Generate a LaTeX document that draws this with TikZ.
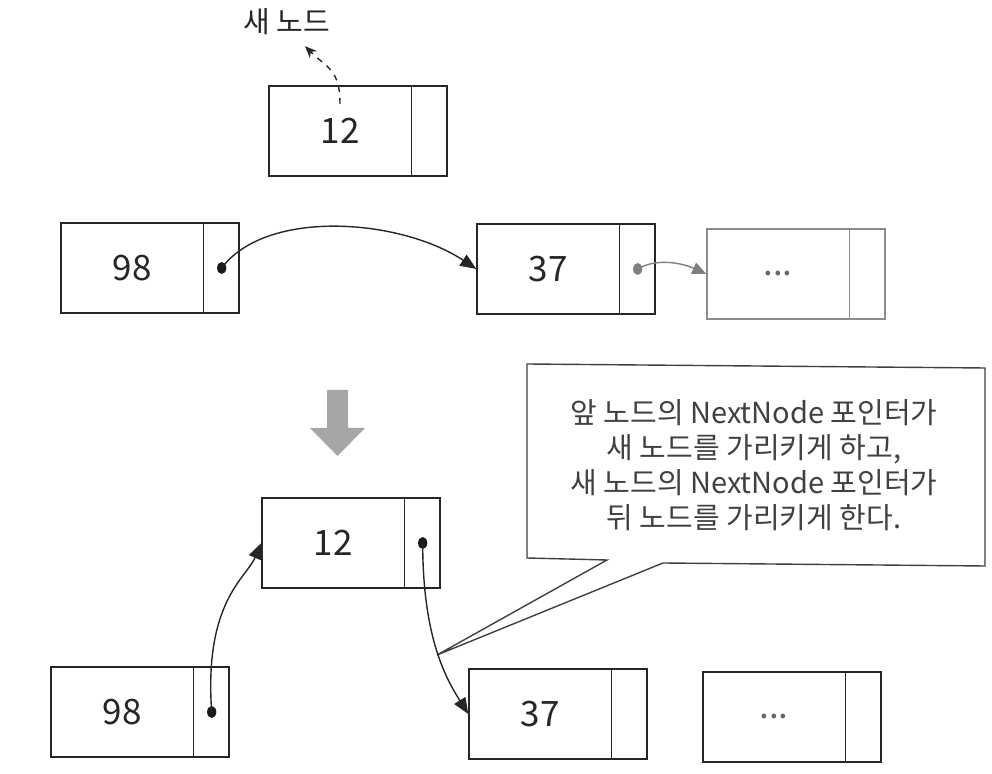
\documentclass[tikz,border=0pt]{standalone}
\usepackage{fontspec}
\newfontfamily\kr{Noto Sans CJK KR}
\usetikzlibrary{arrows.meta}
\tikzset{
  llcell/.style={draw=black!85, line width=0.7pt, minimum width=89pt, minimum height=45pt, inner sep=0pt, fill=white},
  val/.style={font=\kr\fontsize{17.5}{20}\selectfont, text=black!85},
  ptr/.style={-{Triangle[length=8pt,width=6.5pt]}, line width=0.7pt, draw=black!85},
  dot/.style={fill=black!90},
  faded/.style={draw=black!45},
  calloutbox/.style={draw=black!75, line width=0.7pt, fill=white},
  note/.style={font=\kr\fontsize{14.5}{17.5}\selectfont, text=black!75, align=center},
}
\newcommand\llbox[5]{%
  \node[llcell,#5] (#1) at (#2,#3) {};
  \draw[line width=0.7pt,draw=black!85,#5] ([xshift=-18pt]#1.north east) -- ([xshift=-18pt]#1.south east);
  \node[val] (#1t) at ([xshift=-9pt]#1.center) {#4};
  \coordinate (#1p) at ([xshift=-9pt]#1.east);
}
\begin{document}
\begin{tikzpicture}[x=0.5pt,y=-0.5pt]
\useasboundingbox (0,0) rectangle (992,774);
% top: new node
\node[font=\kr\fontsize{14.5}{17}\selectfont, text=black!85] (newlbl) at (287,22) {새 노드};
\llbox{n12}{358}{131}{12}{}
\draw[dashed, line width=0.7pt, -{Stealth[length=6pt,width=5pt]}, draw=black!85]
  ([xshift=-9pt,yshift=13.5pt]n12.center) .. controls +(0,-35) and +(22,22) .. ([xshift=9pt,yshift=-2pt]newlbl.south);
% row 2
\llbox{a98}{150}{268}{98}{}
\llbox{a37}{566}{269}{37}{}
\llbox{aetc}{796}{274}{\textcolor{black!60}{...}}{faded}
\fill[dot] (a98p) ellipse (2.3pt and 3pt);
\fill[black!50] (a37p) ellipse (2.3pt and 3pt);
\draw[ptr] (a98p) .. controls +(45,-60) and +(-75,-50) .. (a37.west);
\draw[ptr, draw=black!50, -{Triangle[length=7pt,width=6pt]}] (a37p) .. controls +(20,-12) and +(-22,-10) .. (aetc.west);
% transition arrow
\fill[black!35] (327,390) -- (348,390) -- (348,428) -- (365,428) -- (337.5,456) -- (310,428) -- (327,428) -- cycle;
% callout
\coordinate (tip) at (437,655);
\draw[calloutbox] (527,364) -- (985,368) -- (985,566) -- (663,563) -- (tip) -- (607,560) -- (527,558) -- cycle;
\node[note] (msg) at (754,465) {앞 노드의 NextNode 포인터가\\새 노드를 가리키게 하고,\\새 노드의 NextNode 포인터가\\뒤 노드를 가리키게 한다.};
% bottom row
\llbox{b12}{351}{543}{12}{}
\llbox{b98}{140}{712}{98}{}
\llbox{b37}{558}{714}{37}{}
\llbox{betc}{792}{717}{\textcolor{black!60}{...}}{}
\fill[dot] (b12p) ellipse (2.3pt and 3pt);
\fill[dot] (b98p) ellipse (2.3pt and 3pt);
\draw[ptr] (b98p) .. controls +(-8,-110) and +(-15,35) .. (b12.west);
\draw[ptr] (b12p) .. controls +(0,95) and +(-22,-35) .. (b37.west);
\end{tikzpicture}
\end{document}
